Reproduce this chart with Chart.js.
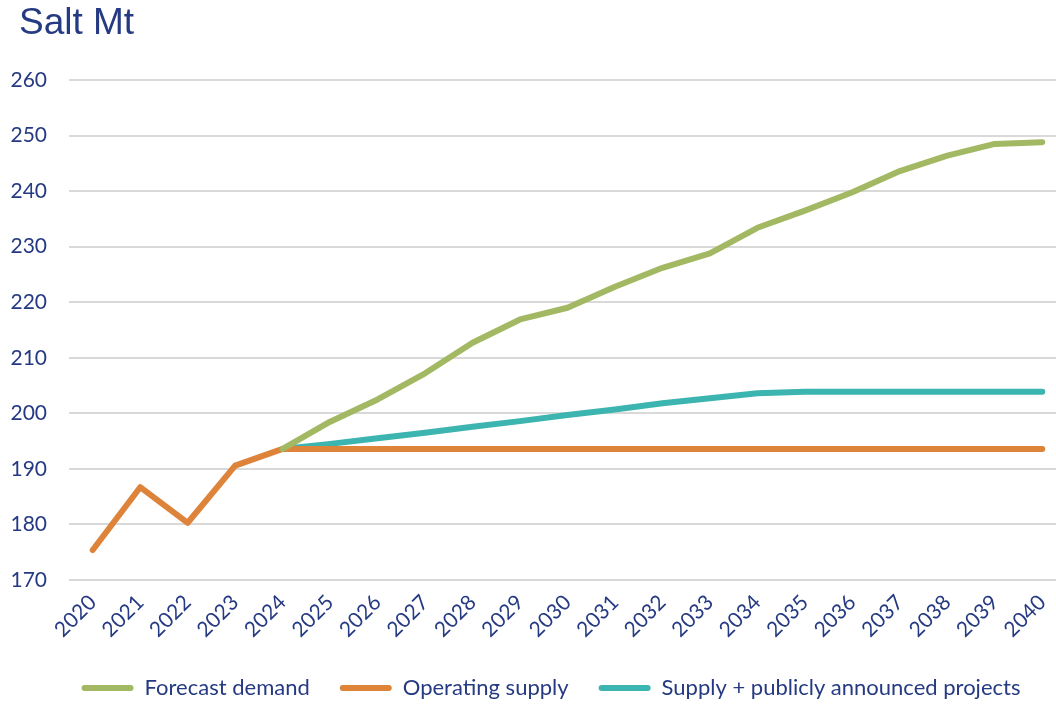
<!DOCTYPE html>
<html>
<head>
<meta charset="utf-8">
<script src="https://cdn.jsdelivr.net/npm/chart.js@4"></script>
<style>
  html, body { margin: 0; padding: 0; background: #fff; overflow: hidden; }
  #wrap { position: relative; width: 1066px; height: 709px; }
  #title {
    position: absolute; left: 19px; top: 1px;
    font-family: 'Liberation Sans', Arial, sans-serif;
    font-size: 37px; color: #253a82;
  }
</style>
</head>
<body>
<div id="wrap">
  <div id="title">Salt Mt</div>
  <canvas id="chart" width="1066" height="709"></canvas>
</div>
<script>
// --- data ---------------------------------------------------------
const years = ['2020','2021','2022','2023','2024','2025','2026','2027','2028','2029','2030',
               '2031','2032','2033','2034','2035','2036','2037','2038','2039','2040'];

const forecastDemand = [null, null, null, null, 193.6, 198.5, 202.5, 207.2, 212.7, 216.9, 219.0,
                        222.8, 226.2, 228.8, 233.4, 236.5, 239.8, 243.6, 246.4, 248.5, 248.8];

const operatingSupply = [175.4, 186.7, 180.3, 190.6, 193.6, 193.6, 193.6, 193.6, 193.6, 193.6, 193.6,
                         193.6, 193.6, 193.6, 193.6, 193.6, 193.6, 193.6, 193.6, 193.6, 193.6];

const supplyAnnounced = [null, null, null, null, 193.6, 194.5, 195.5, 196.5, 197.6, 198.6, 199.7,
                         200.7, 201.8, 202.7, 203.6, 203.9, 203.9, 203.9, 203.9, 203.9, 203.9];

const NAVY = '#253a82';
const FONT = "Lato, 'Open Sans', sans-serif";

function lineSet(label, data, color) {
  return {
    label, data,
    borderColor: color,
    backgroundColor: color,
    borderWidth: 6,
    pointRadius: 0,
    borderCapStyle: 'round',
    borderJoinStyle: 'round',
    tension: 0
  };
}

// nudge the centred legend a bit to the right, like the original
const legendShift = {
  id: 'legendShift',
  afterLayout(chart) {
    chart.legend.left += 14;
    chart.legend.right += 14;
  }
};

new Chart(document.getElementById('chart'), {
  type: 'line',
  data: {
    labels: years,
    datasets: [
      lineSet('Forecast demand', forecastDemand, '#a3b862'),
      lineSet('Operating supply', operatingSupply, '#dd843a'),
      lineSet('Supply + publicly announced projects', supplyAnnounced, '#3cb4af')
    ]
  },
  plugins: [legendShift],
  options: {
    responsive: false,
    animation: false,
    layout: { padding: { top: 80, left: 8, right: 0, bottom: 0 } },
    plugins: {
      tooltip: { enabled: false },
      legend: {
        position: 'bottom',
        align: 'center',
        labels: {
          color: NAVY,
          font: { family: FONT, size: 22 },
          boxWidth: 52,
          boxHeight: 6,
          padding: 30,
          useBorderRadius: true,
          borderRadius: 3,
          generateLabels: chart => chart.data.datasets.map((ds, i) => ({
            text: ds.label,
            fillStyle: ds.borderColor,
            strokeStyle: ds.borderColor,
            lineWidth: 0,
            borderRadius: 3,
            fontColor: NAVY,
            datasetIndex: i
          }))
        }
      }
    },
    scales: {
      x: {
        offset: true,
        grid: { display: false },
        border: { display: false },
        afterFit: s => { s.height = 67; },
        ticks: {
          color: NAVY,
          font: { family: FONT, size: 21 },
          minRotation: 45,
          maxRotation: 45,
          padding: 2
        }
      },
      y: {
        min: 170,
        max: 260,
        afterFit: s => { s.width = 61; },
        grid: { color: '#d9d9d9', lineWidth: 2, drawTicks: false },
        border: { display: false },
        ticks: {
          stepSize: 10,
          color: NAVY,
          font: { family: FONT, size: 21 },
          padding: 22
        }
      }
    }
  }
});
</script>
</body>
</html>
